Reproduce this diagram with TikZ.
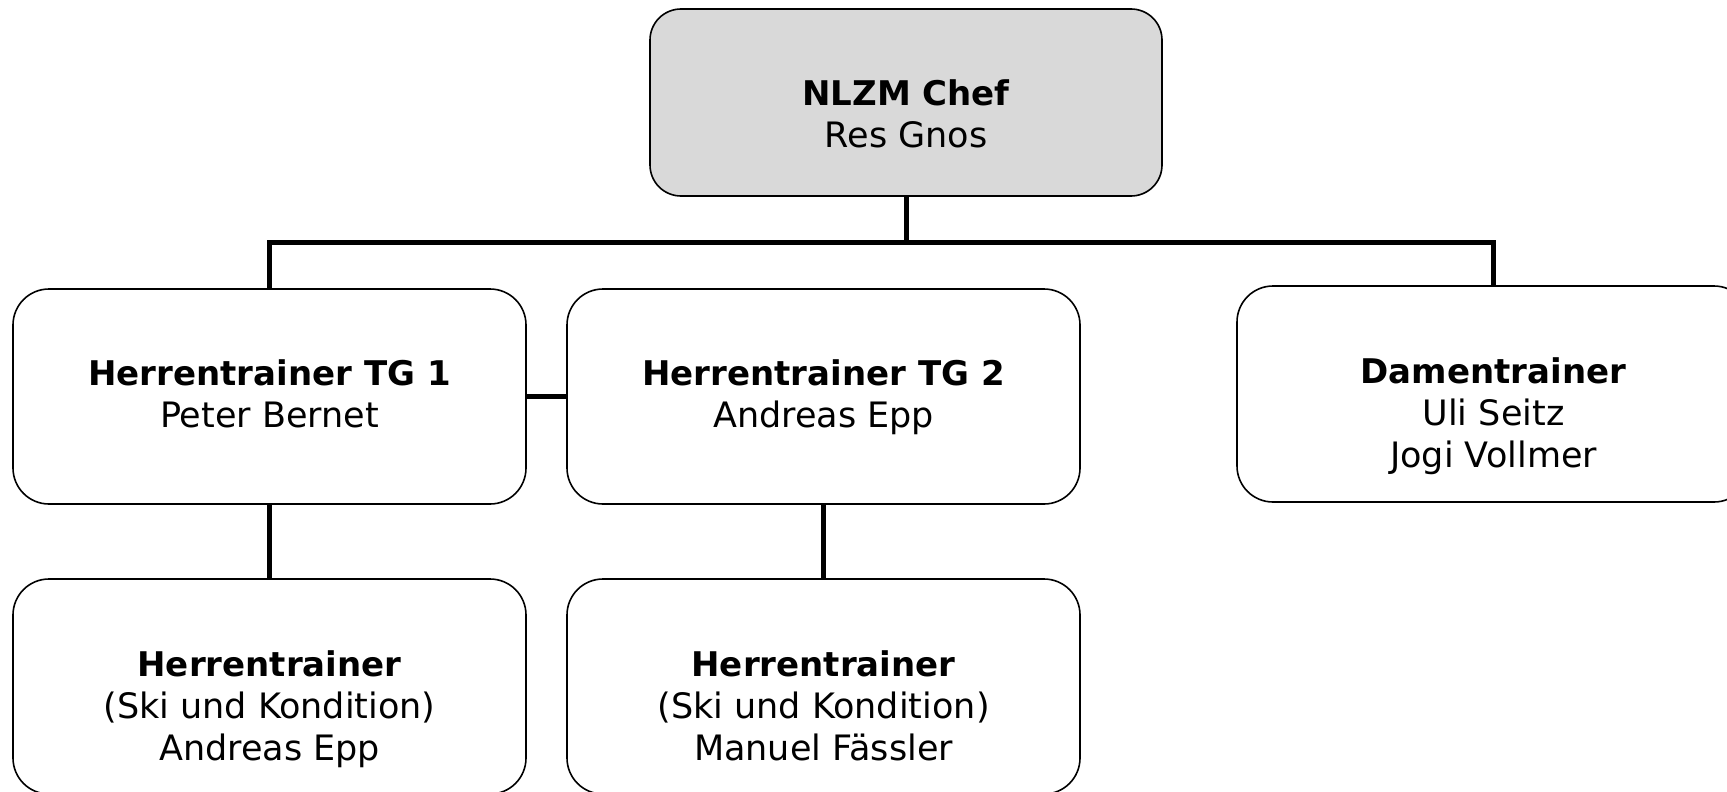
\documentclass[tikz,border=0pt]{standalone}
\usepackage{fontspec}
\setmainfont{DejaVu Sans}
\usetikzlibrary{calc}
\definecolor{chefgray}{HTML}{D9D9D9}
\begin{document}
\begin{tikzpicture}[x=1pt,y=-1pt,
  orgbox/.style={draw=black, line width=1.6pt, rounded corners=36pt, minimum width=513pt, minimum height=215pt, inner sep=0pt, fill=white},
  orgtext/.style={align=center, font=\fontsize{35}{42}\selectfont, inner sep=0pt},
  hd/.style={},
  conn/.style={line width=5pt}]
\useasboundingbox (0,0) rectangle (1727,792);
\newcommand{\hdtext}[1]{{\fontsize{34}{42}\selectfont\bfseries #1}}
% boxes
\node[orgbox, fill=chefgray, minimum height=187pt, minimum width=512pt, rounded corners=31pt] (chef) at (906,102.5) {};
\node[orgbox] (tg1) at (269.5,396.5) {};
\node[orgbox] (tg2) at (823.5,396.5) {};
\node[orgbox, minimum height=216pt] (dame) at (1493.5,394) {};
\node[orgbox] (ht1) at (269.5,686.5) {};
\node[orgbox] (ht2) at (823.5,686.5) {};
% texts
\node[orgtext] (chefT) at (906,114) {\hdtext{NLZM Chef}\\Res Gnos};
\node[orgtext] (tg1T) at (269.5,394) {\hdtext{Herrentrainer TG 1}\\Peter Bernet};
\node[orgtext] (tg2T) at (823.5,397) {\hdtext{Herrentrainer TG 2}\\Andreas Epp};
\node[orgtext] (dameT) at (1493.5,416.5) {\hdtext{Damentrainer}\\Uli Seitz\\Jogi Vollmer};
\node[orgtext] (ht1T) at (269.5,709.5) {\hdtext{Herrentrainer}\\(Ski und Kondition)\\Andreas Epp};
\node[orgtext] (ht2T) at (823.5,705.5) {\hdtext{Herrentrainer}\\(Ski und Kondition)\\Manuel Fässler};
% connectors
\coordinate (busY) at (0,242);
\draw[conn] (chef.south) -- (chef.south |- busY);
\draw[conn] (tg1.north) -- (tg1.north |- busY) -- (dame.north |- busY) -- (dame.north);
\draw[conn] (tg1.east) -- (tg2.west);
\draw[conn] (tg1.south) -- (ht1.north);
\draw[conn] (tg2.south) -- (ht2.north);
\end{tikzpicture}
\end{document}
